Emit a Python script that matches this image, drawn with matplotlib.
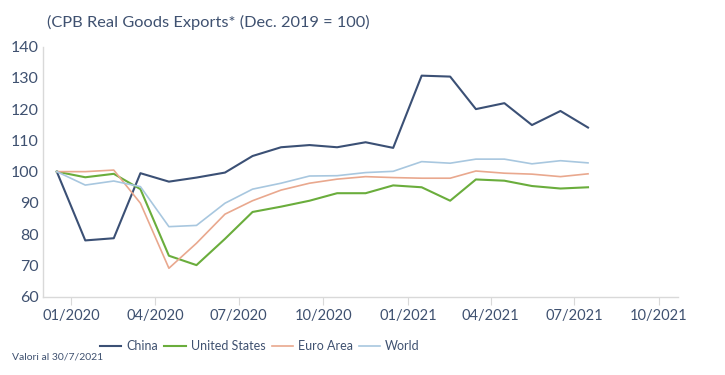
import pandas as pd
import matplotlib
matplotlib.use("Agg")
import matplotlib.pyplot as plt
import matplotlib.dates as mdates

# Monthly index values (Dec 2019 .. Jul 2021)
months = pd.date_range("2019-12-01", "2021-07-01", freq="MS") + pd.Timedelta(days=15)

china = [100, 78, 78.7, 99.5, 96.8, 98.1, 99.7, 105, 107.8, 108.5, 107.8, 109.4,
         107.6, 130.7, 130.4, 120, 121.9, 114.9, 119.4, 114.1]
united_states = [100, 98.2, 99.3, 94.4, 73.1, 70.1, 78.5, 87.1, 88.8, 90.7, 93.1, 93.1,
                 95.6, 95, 90.7, 97.5, 97.1, 95.4, 94.6, 95]
euro_area = [100, 100, 100.5, 89.9, 69.1, 77.1, 86.4, 90.7, 94.1, 96.3, 97.6, 98.4,
             98.1, 97.9, 97.9, 100.2, 99.5, 99.2, 98.4, 99.3]
world = [100, 95.7, 97, 95.2, 82.4, 82.8, 89.9, 94.4, 96.3, 98.6, 98.7, 99.7,
         100.1, 103.2, 102.7, 104, 104, 102.5, 103.5, 102.8]

series_names = ["China", "United States", "Euro Area", "World"]
series_colors = ["#3b5075", "#6aad3c", "#e9a88e", "#a8c7df"]
text_color = "#3f5170"

plt.rcParams["font.family"] = ["Lato", "DejaVu Sans"]

fig = plt.figure(figsize=(7.25, 3.75), dpi=100)
ax = fig.add_axes([0.0593, 0.2088, 0.876, 0.667])

for name, values, color in zip(series_names, [china, united_states, euro_area, world], series_colors):
    lw = 1.5 if name in ("China", "United States") else 1.2
    ax.plot(months, values, color=color, lw=lw, label=name)

ax.set_ylim(60, 140)
ax.set_yticks(range(60, 141, 10))
ax.set_xlim(pd.Timestamp("2019-12-01"), pd.Timestamp("2021-10-22"))
ax.xaxis.set_major_locator(mdates.MonthLocator(bymonth=[1, 4, 7, 10]))
ax.xaxis.set_major_formatter(mdates.DateFormatter("%m/%Y"))

for side in ["top", "right"]:
    ax.spines[side].set_visible(False)
for side in ["left", "bottom"]:
    ax.spines[side].set_color("#d9d9d9")
    ax.spines[side].set_linewidth(1.0)

ax.tick_params(axis="y", length=0, pad=3, labelsize=11.5, labelcolor=text_color)
ax.tick_params(axis="x", length=6, color="#d9d9d9", pad=3, labelsize=10.5, labelcolor=text_color)

fig.text(47 / 725, 1 - 22 / 375, "(CPB Real Goods Exports* (Dec. 2019 = 100)",
         fontsize=11.8, color=text_color, va="center", ha="left")

fig.legend(loc="center", bbox_to_anchor=(260 / 725, 1 - 346 / 375), ncol=4,
           frameon=False, fontsize=9, handlelength=1.7, handletextpad=0.4,
           columnspacing=0.5, labelcolor=text_color)

fig.text(12 / 725, 1 - 357 / 375, "Valori al 30/7/2021", fontsize=7.5,
         color=text_color, va="center", ha="left")

fig.savefig("out.png", dpi=100)
